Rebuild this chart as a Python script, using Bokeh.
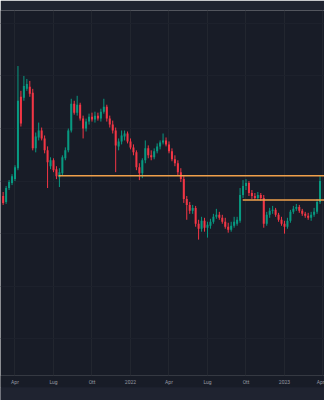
from bokeh.plotting import figure
from bokeh.models import Range1d, FixedTicker, ColumnDataSource, LinearAxis
from bokeh.embed import file_html
from bokeh.resources import INLINE

# weekly candles (arbitrary price units)
opens = [104, 98, 112, 117, 121, 132, 204, 203, 212, 214,
         208, 152, 163, 170, 162, 150, 134, 140, 131, 123,
         127, 142, 150, 170, 197, 188, 196, 182, 172, 179,
         184, 181, 185, 182, 189, 194, 182, 176, 170, 154,
         159, 164, 167, 159, 153, 148, 133, 127, 140, 152,
         145, 143, 149, 154, 158, 160, 156, 149, 141, 137,
         128, 121, 101, 95, 89, 92, 76, 71, 79, 72,
         74, 78, 83, 85, 82, 78, 73, 70, 74, 76,
         79, 105, 114, 117, 107, 104, 102, 105, 102, 76,
         85, 89, 90, 85, 80, 76, 73, 79, 88, 91,
         93, 89, 86, 84, 82, 85, 88, 98]
closes = [97, 112, 118, 124, 133, 200, 177, 215, 217, 207,
          152, 164, 170, 162, 150, 138, 140, 130, 124, 128,
          143, 150, 170, 197, 188, 196, 182, 172, 179, 184,
          181, 185, 182, 189, 194, 182, 176, 170, 155, 159,
          165, 167, 159, 153, 148, 133, 127, 140, 152, 145,
          143, 149, 154, 158, 160, 156, 149, 141, 137, 128,
          121, 101, 95, 89, 92, 76, 71, 79, 72, 75,
          78, 83, 85, 82, 78, 73, 70, 74, 78, 80,
          105, 114, 117, 107, 104, 102, 105, 102, 76, 85,
          89, 90, 85, 80, 76, 73, 79, 88, 91, 93,
          89, 86, 84, 82, 85, 88, 98, 119]
highs = [108, 114, 120, 126, 135, 235, 210, 225, 222, 220,
         212, 168, 178, 173, 165, 154, 143, 142, 134, 132,
         145, 153, 172, 202, 200, 205, 198, 185, 182, 187,
         188, 189, 188, 192, 202, 196, 185, 180, 173, 162,
         170, 170, 169, 162, 156, 150, 137, 142, 160, 155,
         150, 152, 157, 160, 167, 163, 159, 152, 145, 140,
         132, 124, 104, 98, 95, 94, 80, 83, 82, 78,
         81, 86, 91, 88, 85, 82, 77, 78, 83, 83,
         112, 120, 121, 119, 110, 107, 108, 107, 105, 88,
         92, 94, 92, 87, 83, 79, 82, 90, 94, 96,
         95, 91, 88, 87, 88, 92, 101, 124]
lows = [95, 96, 110, 115, 119, 130, 174, 200, 210, 204,
        150, 148, 160, 160, 147, 112, 131, 128, 121, 113,
        125, 140, 148, 168, 186, 185, 180, 162, 169, 176,
        179, 178, 180, 179, 187, 179, 173, 167, 128, 150,
        156, 160, 157, 151, 145, 130, 120, 122, 137, 142,
        140, 141, 147, 151, 156, 154, 147, 139, 134, 125,
        118, 97, 80, 86, 86, 73, 60, 68, 68, 62,
        71, 76, 81, 80, 76, 71, 67, 68, 72, 74,
        77, 102, 110, 104, 101, 100, 100, 99, 72, 74,
        82, 86, 83, 78, 74, 66, 71, 77, 86, 89,
        87, 84, 82, 80, 79, 83, 86, 96]

tick_index = [4, 17, 30, 43, 56, 69, 82, 95, 108]
tick_labels = ["Apr", "Lug", "Ott", "2022", "Apr", "Lug", "Ott", "2023", "Apr"]
grid_levels = [278, 225, 172, 119, 66, 13, -40]

level_prices = [124.5, 100]
level_starts = [18.7, 80.9]

UP = "#089981"
DOWN = "#f23645"
BG = "#181c27"
BAND = "#1f2330"

idx = list(range(len(opens)))
colors = [UP if c >= o else DOWN for o, c in zip(opens, closes)]
src = ColumnDataSource(dict(
    x=idx,
    top=[max(o, c) for o, c in zip(opens, closes)],
    bottom=[min(o, c) for o, c in zip(opens, closes)],
    high=highs, low=lows, color=colors,
))

x_end = 108.51
p = figure(width=324, height=400,
           x_range=Range1d(-0.895, x_end), y_range=Range1d(-77, 291),
           output_backend="svg", toolbar_location=None,
           min_border_left=0, min_border_right=0,
           min_border_top=10, min_border_bottom=0)
p.background_fill_color = BG
p.border_fill_color = BAND
p.outline_line_color = None

p.segment(x0="x", x1="x", y0="low", y1="high", color="color", line_width=1, source=src)
p.vbar(x="x", width=0.68, top="top", bottom="bottom", fill_color="color",
       line_color=None, source=src)

lvl = ColumnDataSource(dict(x0=level_starts, x1=[x_end] * len(level_starts),
                            y=level_prices))
p.segment(x0="x0", x1="x1", y0="y", y1="y", source=lvl,
          line_color="#f0a04b", line_width=1.5)

p.yaxis.visible = False
ax = p.xaxis[0]
ax.ticker = FixedTicker(ticks=tick_index)
ax.major_label_overrides = {t: l for t, l in zip(tick_index, tick_labels)}
ax.axis_line_color = None
ax.major_tick_line_color = None
ax.minor_tick_line_color = None
ax.major_tick_out = 0
ax.major_tick_in = 0
ax.minor_tick_out = 0
ax.major_label_standoff = 3
ax.major_label_text_font = "Roboto"
ax.major_label_text_font_size = "5px"
ax.major_label_text_color = "#9598a1"
ax.background_fill_color = BG

# bottom strip below the time scale
strip = LinearAxis(ticker=FixedTicker(ticks=[]), axis_line_color=None,
                   major_tick_out=0, major_tick_in=0, minor_tick_out=0,
                   major_label_text_font_size="1px",
                   axis_label="\u00a0", axis_label_standoff=0,
                   axis_label_text_font_size="9px",
                   axis_label_text_color=BAND)
strip.background_fill_color = BAND
p.add_layout(strip, "below")

p.xgrid.ticker = FixedTicker(ticks=tick_index)
p.ygrid.ticker = FixedTicker(ticks=grid_levels)
p.xgrid.grid_line_color = "#22262f"
p.ygrid.grid_line_color = "#1d212c"

open("out.html", "w").write(file_html(p, INLINE))
